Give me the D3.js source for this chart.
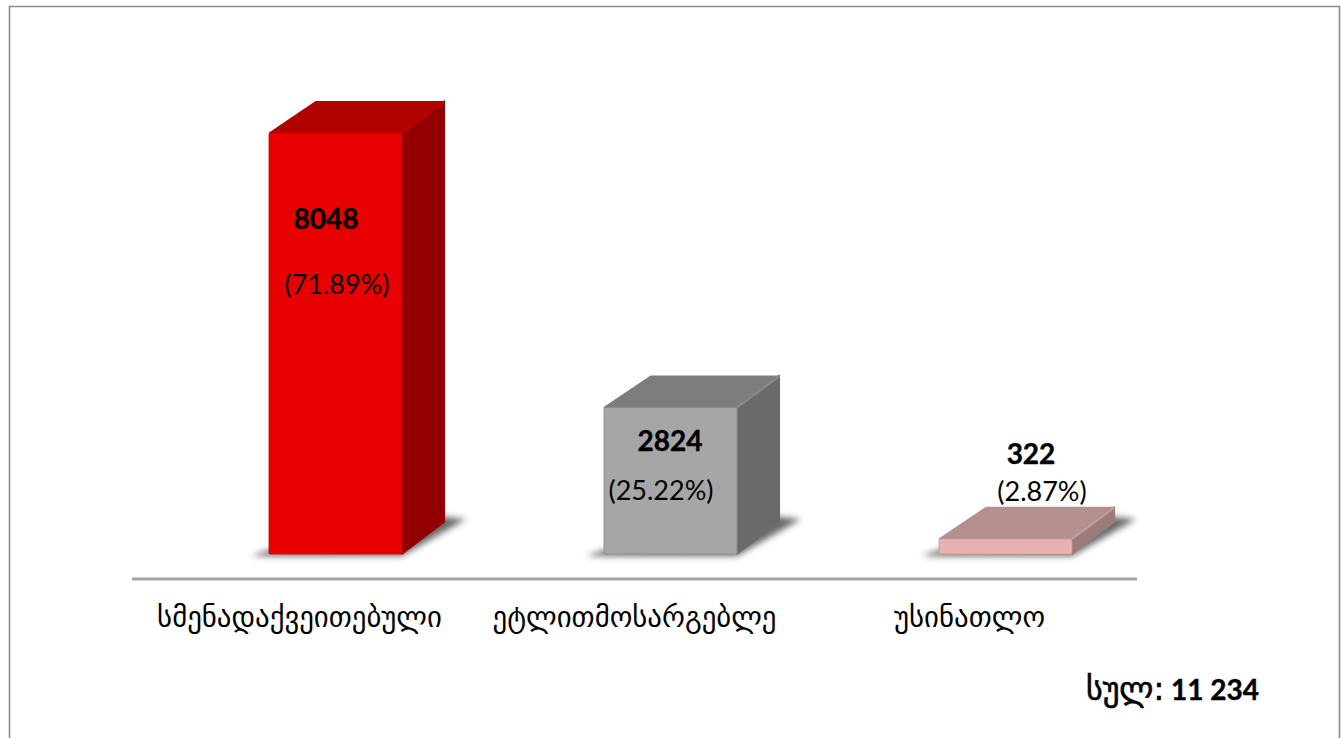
<!DOCTYPE html>
<html><head><meta charset="utf-8">
<script src="https://cdnjs.cloudflare.com/ajax/libs/d3/7.8.5/d3.min.js"></script>
<style>
html,body{margin:0;padding:0;background:#fff;overflow:hidden}
svg{display:block}
text{font-family:Lato,"DejaVu Sans",sans-serif;fill:#000}
</style></head><body>
<svg id="c" width="1341" height="738"></svg>
<script>
// ---- data ----
const categories = ["სმენადაქვეითებული","ეტლითმოსარგებლე","უსინათლო"];
const counts = [8048,2824,322];
const shares = ["(71.89%)","(25.22%)","(2.87%)"];
const totalLabel = "სულ:";
const totalValue = "11 234";
const frontColors = ["#e80000","#a6a6a6","#e9b2b2"];
const topColors = ["#b00000","#7d7d7d","#b48f8f"];
const sideColors = ["#930000","#6b6b6b","#9b7b7b"];

// ---- layout ----
const W=1341,H=738, baseY=554, depthX=43, depthY=32, barW=133;
const svg=d3.select("#c");
const defs=svg.append("defs");
defs.append("filter").attr("id","blur").attr("x","-30%").attr("y","-30%").attr("width","160%").attr("height","160%")
  .append("feGaussianBlur").attr("stdDeviation",3.4);
defs.append("filter").attr("id","soft").attr("x","-5%").attr("y","-5%").attr("width","110%").attr("height","110%")
  .append("feGaussianBlur").attr("stdDeviation",0.6);

const x=d3.scaleBand().domain(categories).range([132,1137]);
const y=d3.scaleLinear().domain([35,8048]).range([baseY,133]);
const frontX=c=>x(c)+x.bandwidth()/2-30.5;

// frame
svg.append("path").attr("d",`M9.5 738V6.5H1339.5V738`).attr("fill","none").attr("stroke","#8c8c8c").attr("stroke-width",1.6);

// axis
const axis=d3.axisBottom(x).tickSize(0).tickPadding(28);
const gAxis=svg.append("g").attr("transform","translate(0,579)").call(axis);
gAxis.select(".domain").attr("stroke","#a3a3a3").attr("stroke-width",3).attr("d","M132,0H1137");
gAxis.selectAll("text").attr("font-size",28.8).attr("font-family",'"DejaVu Sans",sans-serif').attr("fill","#000");

const bars=svg.selectAll("g.bar").data(categories).join("g").attr("class","bar");
bars.each(function(c,i){
  const g=d3.select(this), x0=frontX(c), x1=x0+barW, t=y(counts[i]);
  const poly=p=>p.map(q=>q.join(",")).join(" ");
  // shadow
  g.append("polygon").attr("filter","url(#blur)").attr("fill","#5a5a5a").attr("opacity",.9)
    .attr("points",poly([[x0-18,baseY+2],[x1,baseY+2],[x1+depthX+21,baseY-depthY-3],[x1+depthX-10,baseY-depthY-6],[x1,baseY-8],[x0,baseY-4]]));
  // side
  g.append("polygon").attr("fill",sideColors[i]).attr("stroke",sideColors[i]).attr("stroke-width",1.5).attr("stroke-linejoin","round").attr("filter","url(#soft)")
    .attr("points",poly([[x1,t],[x1+depthX-.7,t-depthY],[x1+depthX-.7,baseY-depthY],[x1,baseY]]));
  // top
  g.append("polygon").attr("fill",topColors[i]).attr("stroke",topColors[i]).attr("stroke-width",1.5).attr("stroke-linejoin","round").attr("filter","url(#soft)")
    .attr("points",poly([[x0+.5,t],[x0+depthX+4,t-depthY+.7],[x1+depthX-1,t-depthY+.7],[x1,t]]));
  // ridge between top and side
  g.append("line").attr("x1",x1).attr("y1",t).attr("x2",x1+depthX-1).attr("y2",t-depthY+1)
    .attr("stroke",d3.interpolateRgb(topColors[i],frontColors[i])(.35)).attr("stroke-width",2).attr("filter","url(#soft)");
  // front
  g.append("rect").attr("x",x0).attr("y",t).attr("width",barW).attr("height",baseY-t)
    .attr("rx",1.5).attr("fill",frontColors[i]).attr("stroke",d3.color(frontColors[i]).darker(.5)).attr("stroke-width",.8).attr("filter","url(#soft)");
});

// value labels
const countX=[326,670,1031], countY=[229,451,464];
const shareX=[337,661,1042], shareY=[294,500,501];
svg.selectAll("text.count").data(counts).join("text").attr("class","count")
  .attr("x",(d,i)=>countX[i]).attr("y",(d,i)=>countY[i]).attr("text-anchor","middle")
  .attr("font-size",28).attr("font-weight",700).attr("stroke","#000").attr("stroke-width",.4).text(d=>d);
svg.selectAll("text.share").data(shares).join("text").attr("class","share")
  .attr("x",(d,i)=>shareX[i]).attr("y",(d,i)=>shareY[i]).attr("text-anchor","middle")
  .attr("font-size",27).text(d=>d);

// total
const tot=svg.append("text").attr("x",1259).attr("y",700).attr("text-anchor","end").attr("font-size",28).attr("font-weight",700).attr("stroke","#000").attr("stroke-width",.4);
tot.append("tspan").attr("font-family",'"DejaVu Sans",sans-serif').attr("font-size",32).attr("font-weight",400).attr("stroke-width",.6).text(totalLabel);
tot.append("tspan").text(" "+totalValue);
</script>
</body></html>
